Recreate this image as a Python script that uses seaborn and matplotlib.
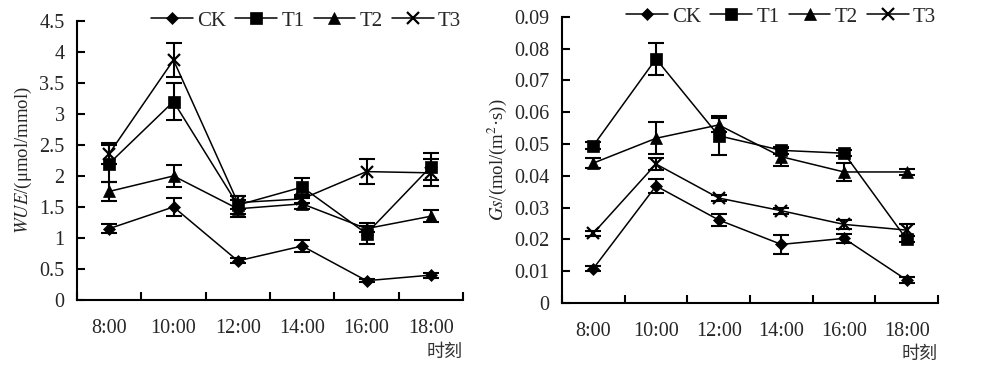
import numpy as np
import pandas as pd
import seaborn as sns
import matplotlib.pyplot as plt
from matplotlib.lines import Line2D
from matplotlib.ticker import FuncFormatter, FixedLocator

sns.set_style("ticks")
plt.rcParams['font.family'] = ['Liberation Serif', 'Noto Sans CJK SC']
plt.rcParams['mathtext.fontset'] = 'stix'

times = ['8:00', '10:00', '12:00', '14:00', '16:00', '18:00']
groups = ['CK', 'T1', 'T2', 'T3']

# WUE (umol/mmol)
wue_ck = [1.15, 1.50, 0.63, 0.87, 0.31, 0.40]
wue_t1 = [2.20, 3.20, 1.53, 1.82, 1.07, 2.15]
wue_t2 = [1.75, 2.00, 1.47, 1.55, 1.15, 1.35]
wue_t3 = [2.36, 3.87, 1.57, 1.63, 2.07, 2.05]
wue_ck_err = [0.07, 0.14, 0.04, 0.09, 0.02, 0.04]
wue_t1_err = [0.30, 0.30, 0.15, 0.14, 0.17, 0.22]
wue_t2_err = [0.15, 0.18, 0.14, 0.09, 0.05, 0.10]
wue_t3_err = [0.17, 0.28, 0.10, 0.06, 0.20, 0.22]

# Gs (mol/(m2 s))
gs_ck = [0.0108, 0.0368, 0.0261, 0.0184, 0.0203, 0.0072]
gs_t1 = [0.0495, 0.0768, 0.0526, 0.0480, 0.0471, 0.0200]
gs_t2 = [0.0440, 0.0518, 0.0560, 0.0460, 0.0412, 0.0412]
gs_t3 = [0.0219, 0.0437, 0.0330, 0.0290, 0.0247, 0.0229]
gs_ck_err = [0.0008, 0.0022, 0.0020, 0.0029, 0.0015, 0.0008]
gs_t1_err = [0.0010, 0.0050, 0.0062, 0.0010, 0.0010, 0.0010]
gs_t2_err = [0.0015, 0.0050, 0.0022, 0.0028, 0.0028, 0.0010]
gs_t3_err = [0.0008, 0.0020, 0.0008, 0.0010, 0.0013, 0.0020]

markers = {'CK': 'D', 'T1': 's', 'T2': '^', 'T3': 'x'}
msizes = {'CK': 6.5, 'T1': 8.5, 'T2': 8.5, 'T3': 8.5}


def make_df(vals, errs):
    rows = []
    for g, v, e in zip(groups, vals, errs):
        for i, t in enumerate(times):
            rows.append({'time': t, 'pos': i, 'group': g, 'val': v[i], 'err': e[i]})
    return pd.DataFrame(rows)


def draw_panel(ax, df, ymax, ystep, ylabel, lab_y):
    for g in groups:
        sub = df[df['group'] == g]
        sns.lineplot(data=sub, x='pos', y='val', ax=ax, color='black', lw=1.1,
                     marker=markers[g], markersize=msizes[g], markeredgewidth=1.6 if g == 'T3' else 0.5,
                     markeredgecolor='black', markerfacecolor='black', legend=False)
        ax.errorbar(sub['pos'], sub['val'], yerr=sub['err'], fmt='none', ecolor='black',
                    elinewidth=1.5, capsize=5.5, capthick=1.5)
    ax.set_xlim(-0.5, 5.5)
    ax.set_ylim(0, ymax)
    ax.yaxis.set_major_locator(FixedLocator(np.round(np.arange(0, ymax + ystep / 2, ystep), 3)))
    ax.yaxis.set_major_formatter(FuncFormatter(lambda v, p: '{:g}'.format(round(v, 3))))
    ax.set_xticks(np.arange(-0.5, 6, 1))
    ax.set_xticklabels([])
    ax.set_xticks(range(6), minor=True)
    ax.set_xticklabels(times, minor=True)
    ax.tick_params(axis='x', which='major', direction='in', length=6, width=1.5, color='black')
    ax.tick_params(axis='x', which='minor', length=0, pad=14, labelsize=14.5)
    ax.tick_params(axis='y', direction='in', length=6, width=1.5, color='black', labelsize=14.5, pad=9)
    for s in ['top', 'right']:
        ax.spines[s].set_visible(False)
    for s in ['left', 'bottom']:
        ax.spines[s].set_linewidth(1.5)
        ax.spines[s].set_color('black')
    ax.set_xlabel('')
    ax.set_ylabel(ylabel, fontsize=13.5, labelpad=4)
    ax.text(1.0, lab_y, '时刻', transform=ax.transAxes, ha='right', va='center',
            fontsize=13, family=['Noto Sans CJK SC'], color='#333333')
    handles = [Line2D([], [], color='black', lw=1.1, marker=markers[g], markersize=msizes[g],
                      markeredgewidth=1.6 if g == 'T3' else 0.5, markerfacecolor='black',
                      markeredgecolor='black') for g in groups]
    ax.legend(handles, groups, loc='center right', bbox_to_anchor=(0.995, 1.0), ncol=4,
              frameon=False, handlelength=2.0, handletextpad=0.2, columnspacing=0.45,
              fontsize=15, borderaxespad=0, borderpad=0)


fig = plt.figure(figsize=(10, 3.68), dpi=100)
ax1 = fig.add_axes([0.077, 0.185, 0.386, 0.758])
ax2 = fig.add_axes([0.562, 0.177, 0.376, 0.777])

df_wue = make_df([wue_ck, wue_t1, wue_t2, wue_t3], [wue_ck_err, wue_t1_err, wue_t2_err, wue_t3_err])
df_gs = make_df([gs_ck, gs_t1, gs_t2, gs_t3], [gs_ck_err, gs_t1_err, gs_t2_err, gs_t3_err])

draw_panel(ax1, df_wue, 4.5, 0.5, r'$\mathit{WUE}$/(μmol/mmol)', -0.185)
draw_panel(ax2, df_gs, 0.09, 0.01, r'$\mathit{Gs}$/(mol/(m$^2$·s))', -0.18)

plt.savefig('out.png', dpi=100)
